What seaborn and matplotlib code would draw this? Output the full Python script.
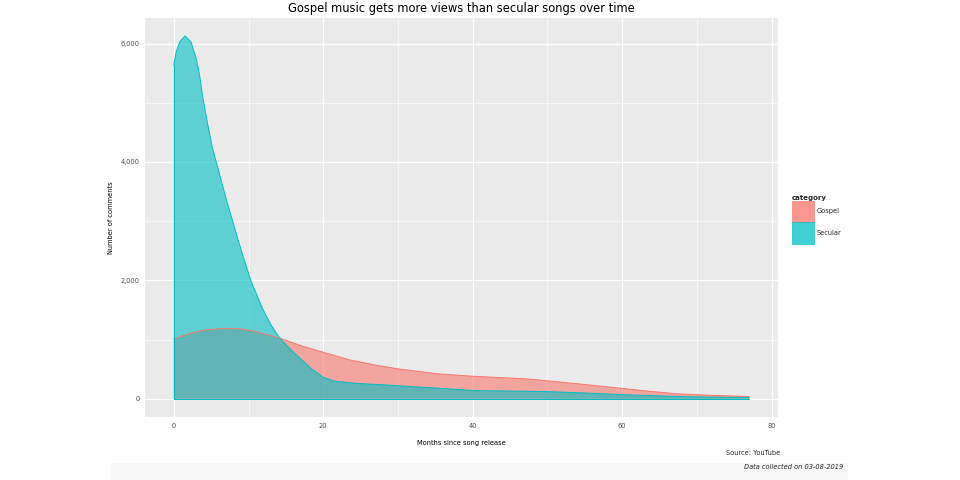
import matplotlib
matplotlib.use("Agg")
import matplotlib.pyplot as plt
import matplotlib.ticker as mticker
import numpy as np
import pandas as pd
import seaborn as sns
from matplotlib.patches import Patch, Rectangle

# values
categories = ["Gospel", "Secular"]
colors = {"Gospel": "#F8766D", "Secular": "#00BFC4"}

gospel_months = [0, 2, 4, 6.8, 9, 11, 14.1, 17, 20, 23.6, 27, 30.1, 35.5,
                 40.2, 47.3, 52, 56, 59.8, 63.5, 67.5, 72, 77]
gospel_comments = [1010, 1100, 1160, 1192, 1180, 1135, 1030, 900, 786, 657,
                   570, 505, 421, 381, 337, 280, 230, 180, 130, 84, 60, 40]

secular_months = [0, 0.3, 0.8, 1.5, 2.3, 3.0, 3.45, 3.9, 4.55, 5.2, 5.9, 7,
                  8, 9, 10.3, 11.9, 13, 14.1, 15.5, 17, 18.5, 20, 21.5, 23.6,
                  26, 28.3, 32, 35.5, 40.2, 45, 49.7, 55, 59.8, 64, 67.5, 72, 77]
secular_comments = [5635, 5850, 6030, 6128, 6030, 5750, 5470, 5080, 4630,
                    4220, 3900, 3380, 2950, 2520, 2000, 1520, 1250, 1040, 850,
                    674, 500, 365, 300, 270, 250, 236, 205, 180, 140, 132, 124,
                    100, 73, 55, 40, 30, 22]

x_ticks = [0, 20, 40, 60, 80]
y_ticks = [0, 2000, 4000, 6000]

df = pd.concat([
    pd.DataFrame({"month": gospel_months, "comments": gospel_comments, "category": "Gospel"}),
    pd.DataFrame({"month": secular_months, "comments": secular_comments, "category": "Secular"}),
])

sns.set_theme(style="darkgrid")
plt.rcParams["font.family"] = ["DejaVu Sans"]

fig = plt.figure(figsize=(9.6, 4.8), dpi=100)
ax = fig.add_axes([145 / 960, 1 - 417 / 480, (778 - 145) / 960, (417 - 18) / 480])
ax.set_facecolor("#EBEBEB")

# filled areas, gospel first so secular sits on top like ggplot
for cat in categories:
    sub = df[df["category"] == cat]
    xs = np.concatenate([[sub["month"].iloc[0]], sub["month"].values, [sub["month"].iloc[-1]]])
    ys = np.concatenate([[0], sub["comments"].values, [0]])
    ax.fill(xs, ys, facecolor=colors[cat], alpha=0.6, edgecolor="none", zorder=2)

sns.lineplot(data=df, x="month", y="comments", hue="category", palette=colors,
             sort=False, estimator=None, linewidth=0.7, legend=False, ax=ax, zorder=3)
for cat in categories:
    sub = df[df["category"] == cat]
    ax.plot([sub["month"].iloc[0], sub["month"].iloc[0]], [0, sub["comments"].iloc[0]],
            color=colors[cat], linewidth=0.7, zorder=3)
    ax.plot([sub["month"].iloc[0], sub["month"].iloc[-1]], [0, 0],
            color=colors[cat], linewidth=0.7, zorder=3)

ax.set_xlim(-3.85, 80.85)
ax.set_ylim(-306, 6431)
ax.set_xticks(x_ticks)
ax.set_yticks(y_ticks)
ax.xaxis.set_minor_locator(mticker.MultipleLocator(10))
ax.yaxis.set_minor_locator(mticker.MultipleLocator(1000))
ax.yaxis.set_major_formatter(mticker.FuncFormatter(lambda v, p: f"{int(v):,}"))
ax.grid(which="major", color="white", linewidth=0.9)
ax.grid(which="minor", color="white", linewidth=0.45)
ax.set_axisbelow(True)
for s in ax.spines.values():
    s.set_visible(False)
ax.tick_params(axis="both", which="major", labelsize=4.8, labelcolor="#4D4D4D",
               length=2.5, width=0.5, color="#333333", pad=1.5)
ax.tick_params(axis="both", which="minor", length=0)

ax.set_xlabel("Months since song release", fontsize=4.8, color="black", labelpad=8)
ax.set_ylabel("Number of comments", fontsize=4.8, color="black", labelpad=5)
ax.set_title("Gospel music gets more views than secular songs over time",
             fontsize=8.3, color="black", pad=4)

handles = [Patch(facecolor=colors[c], alpha=0.75, edgecolor=colors[c], linewidth=0.6)
           for c in categories]
leg = fig.legend(handles, categories, title="category", loc="upper left",
                 bbox_to_anchor=(789 / 960, 1 - 192 / 480), frameon=False,
                 fontsize=4.8, title_fontsize=5, handlelength=3.3, handleheight=4.6,
                 labelspacing=0, handletextpad=0.5, borderaxespad=0)
leg.get_title().set_fontweight("bold")
leg._legend_box.align = "left"

fig.text(780 / 960, 1 - 453 / 480, "Source: YouTube", fontsize=4.8,
         ha="right", va="center")
fig.text(843 / 960, 1 - 467 / 480, "Data collected on 03-08-2019", fontsize=4.8,
         ha="right", va="center", style="italic")

# faint band along the bottom of the reference image
fig.patches.append(Rectangle((111 / 960, 0), (848 - 111) / 960, 17 / 480,
                             transform=fig.transFigure, facecolor="#F8F8F8",
                             edgecolor="none", zorder=0))

fig.savefig("out.png", dpi=100)
